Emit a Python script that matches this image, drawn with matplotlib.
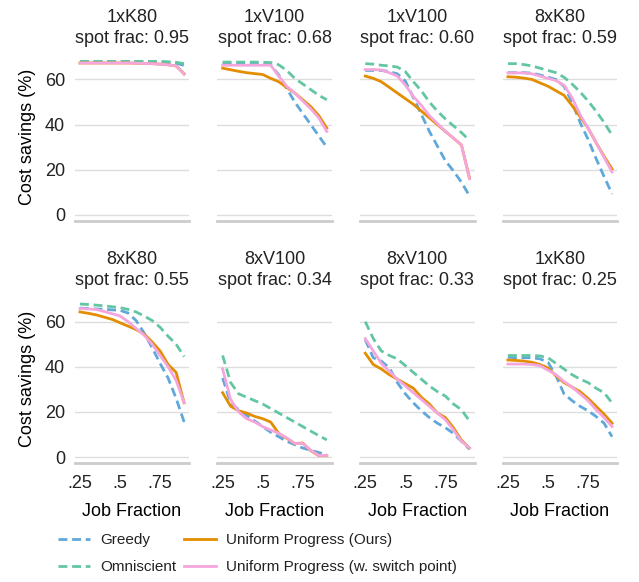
import matplotlib
matplotlib.use("Agg")
import matplotlib.pyplot as plt

plt.rcParams["font.family"] = ["Liberation Sans", "DejaVu Sans"]
plt.rcParams["font.size"] = 13
plt.rcParams["text.color"] = "#222222"

job_frac = [0.25, 0.30, 0.35, 0.40, 0.45, 0.50, 0.55,
            0.60, 0.65, 0.70, 0.75, 0.80, 0.85, 0.90]

gpus = ["1xK80", "1xV100", "1xV100", "8xK80",
        "8xK80", "8xV100", "8xV100", "1xK80"]
spot_frac = [0.95, 0.68, 0.60, 0.59, 0.55, 0.34, 0.33, 0.25]

greedy = [
    [68, 68, 68, 68, 68, 68, 68, 68, 68, 68, 67.8, 67.6, 67.2, 66.2],
    [67, 67, 67, 67, 67, 67, 66.5, 62, 56, 50, 45, 40, 35, 30],
    [64, 64, 64, 63.5, 62.5, 59.3, 52, 44.5, 37, 30.5, 24, 19.5, 14.5, 8.5],
    [63, 63, 63, 62.8, 62, 61, 60, 57, 50, 41, 33.5, 25, 17, 9.3],
    [66, 65.8, 65.6, 65.5, 65.2, 65, 63.8, 60.5, 55, 48.5, 41.5, 35, 26, 15.5],
    [35, 24, 21, 18.5, 16, 13.5, 11, 9, 7, 5.5, 4, 3, 2, 1],
    [52, 44, 42.5, 39.5, 33, 28, 24, 20.5, 17.5, 15, 13, 10.5, 7, 3.5],
    [44.2, 44, 44, 44, 43.5, 42, 36, 28, 25, 22.5, 20.5, 18, 15, 9],
]
omniscient = [
    [68, 68, 68, 68, 68, 68, 68, 68, 68, 68, 68, 67.8, 67.6, 67],
    [67.7, 67.7, 67.7, 67.7, 67.7, 67.6, 67.5, 66.5, 64, 60.5, 58, 55.5, 53, 51],
    [67, 66.8, 66.3, 66, 65.5, 63.5, 59, 55, 50, 46, 42.5, 39.5, 36.5, 33],
    [67, 67, 66.6, 66, 65, 64, 63, 61, 58, 54.5, 50.5, 46, 41, 35.3],
    [67.8, 67.6, 67.3, 67, 66.6, 66.2, 65.4, 64.3, 62.5, 60.5, 57.5, 53.5, 50, 44.5],
    [45, 33, 28, 26.5, 25, 23.5, 21.5, 19.5, 17.5, 15.5, 13.5, 11.5, 9.5, 7.6],
    [60, 52.5, 47, 45, 43.5, 40.5, 37.5, 34.5, 31.5, 29, 27, 23.5, 21, 16],
    [45, 45, 45, 45, 44.8, 44, 41.5, 39, 36.5, 34.5, 33, 30.5, 28.5, 24],
]
uniform = [
    [67.3, 67.3, 67.3, 67.3, 67.3, 67.3, 67.3, 67.2, 67.1, 67, 66.8, 66.5, 66, 62.5],
    [65, 64.3, 63.6, 63, 62.6, 62.2, 60.5, 59, 56.5, 54, 51, 48, 44, 38.5],
    [61.5, 60.5, 59, 56.5, 54, 51.5, 49, 46, 43, 40, 37, 34, 31, 16.5],
    [61.2, 61, 60.6, 60, 58.5, 57, 55, 53, 48.5, 43.5, 38.5, 32, 26, 20.3],
    [64.3, 63.7, 63, 62, 61, 59.5, 58, 56.5, 54.5, 51, 47, 41, 37.5, 24],
    [28.5, 22.5, 20.5, 19.5, 18, 17, 15.5, 10.5, 8.3, 6, 6.2, 2.8, 0.6, 0.6],
    [46, 41, 39, 36.5, 34.5, 32.5, 30.5, 26.5, 23.5, 19.5, 17.5, 13, 7.5, 4],
    [43, 42.8, 42.5, 42, 41, 39.5, 36, 33, 31, 29, 26, 22.5, 19, 15],
]
uniform_switch = [
    [67.3, 67.3, 67.3, 67.3, 67.3, 67.3, 67.3, 67.2, 67.1, 67, 66.8, 66.5, 66, 62.3],
    [66.3, 66.3, 66.3, 66.3, 66.3, 66.3, 66.3, 61.5, 57, 54, 50.5, 47, 43, 37],
    [64.4, 64.4, 64.2, 63, 61.5, 57.5, 52.5, 48.5, 44, 40.5, 37, 34, 31, 16],
    [62.9, 62.9, 62.9, 62.5, 61.5, 60.5, 59.5, 57.5, 52, 44.5, 38.5, 32, 25.5, 19],
    [65.8, 65.6, 65.4, 64.5, 63.5, 62.5, 60, 57, 54, 50, 45, 40, 34, 24],
    [39, 25.5, 20, 17, 15.5, 13.5, 12, 10.5, 8.5, 6, 6, 3, 0.7, 0.7],
    [52.5, 47, 41.5, 38, 34.5, 31.5, 28.5, 25.5, 22.5, 19.5, 16.5, 12, 7, 4],
    [41.2, 41.2, 41.2, 41, 40.5, 38.5, 36.5, 33.5, 31, 28, 25, 21, 17.5, 13.5],
]

c_greedy = "#5fa8d9"
c_omni = "#63c6a2"
c_uniform = "#e38d00"
c_switch = "#f5a6dc"
dash = (0, (3.2, 1.7))

fig, axes = plt.subplots(2, 4, figsize=(6.39, 5.82), dpi=100,
                         sharex=True, sharey=True)
fig.subplots_adjust(left=0.117, right=0.966, top=0.91, bottom=0.205,
                    wspace=0.245, hspace=0.44)

for i, ax in enumerate(axes.flat):
    ax.plot(job_frac, greedy[i], color=c_greedy, lw=2, ls=dash,
            label="Greedy")
    ax.plot(job_frac, omniscient[i], color=c_omni, lw=2, ls=dash,
            label="Omniscient")
    ax.plot(job_frac, uniform[i], color=c_uniform, lw=2,
            label="Uniform Progress (Ours)")
    ax.plot(job_frac, uniform_switch[i], color=c_switch, lw=2,
            label="Uniform Progress (w. switch point)")

    ax.set_title("%s\nspot frac: %.2f" % (gpus[i], spot_frac[i]),
                 fontsize=13, pad=7, linespacing=1.3)
    ax.set_ylim(-2.5, 72)
    ax.set_yticks([0, 20, 40, 60])
    ax.set_xticks([0.25, 0.5, 0.75])
    ax.set_xticklabels([".25", ".5", ".75"])
    ax.grid(axis="y", color="#dddddd", lw=1)
    ax.set_axisbelow(True)
    for s in ["left", "right", "top"]:
        ax.spines[s].set_visible(False)
    ax.spines["bottom"].set_color("#cccccc")
    ax.spines["bottom"].set_linewidth(2)
    ax.tick_params(axis="both", length=0, labelsize=13, colors="#222222")
    ax.tick_params(axis="y", pad=7)
    ax.tick_params(axis="x", pad=9)
    if i % 4 == 0:
        ax.set_ylabel("Cost savings (%)", fontsize=13, labelpad=6)
    if i >= 4:
        ax.set_xlabel("Job Fraction", fontsize=13, labelpad=8)

handles, labels = axes[0, 0].get_legend_handles_labels()
fig.legend(handles, labels, ncol=2, loc="upper left",
           bbox_to_anchor=(0.069, 0.107), frameon=False, fontsize=11,
           handlelength=2.1, columnspacing=0.5, handletextpad=0.65,
           labelspacing=0.85)

fig.savefig("out.png", dpi=100)
